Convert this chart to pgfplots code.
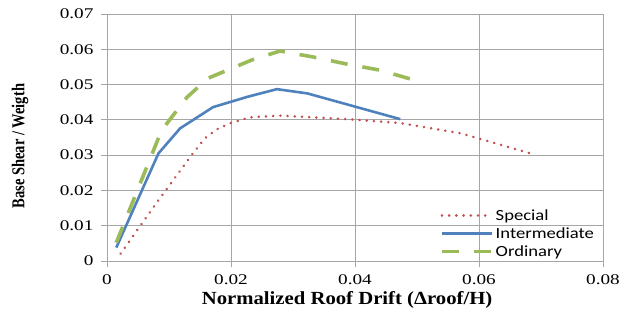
\documentclass[border=0pt]{standalone}
\usepackage{graphicx}
\usepackage{pgfplots}
\pgfplotsset{compat=1.18}
\usepackage{fontspec}
\setmainfont{Liberation Serif}
\newfontfamily\tickfont[FakeStretch=1.3]{Liberation Serif}
\newfontfamily\labfont[FakeStretch=1.12]{Liberation Serif}
\newfontfamily\legfont[FakeStretch=1.2]{Carlito}
\definecolor{cred}{HTML}{C0504D}
\definecolor{cblue}{HTML}{4F81BD}
\definecolor{cgreen}{HTML}{9BBB59}
\definecolor{cgrid}{HTML}{A6A6A6}
\begin{document}
\begin{tikzpicture}
\begin{axis}[
  name=ax,
  scale only axis, width=496pt, height=247pt,
  xmin=0, xmax=0.08, ymin=0, ymax=0.07,
  xtick={0,0.02,0.04,0.06,0.08},
  ytick={0,0.01,0.02,0.03,0.04,0.05,0.06,0.07},
  scaled ticks=false,
  /pgf/number format/fixed,
  /pgf/number format/precision=2,
  /pgf/number format/assume math mode=true,
  grid=major,
  major grid style={cgrid, line width=0.9pt},
  axis line style={cgrid, line width=0.9pt},
  tick style={cgrid, line width=0.9pt},
  tick align=outside, tick pos=left, major tick length=6pt,
  ticklabel style={font=\tickfont\fontsize{14.8}{14.8}\selectfont},
  xticklabel style={yshift=-4pt},
  yticklabel style={xshift=-4pt},
  xlabel={\labfont\bfseries\fontsize{18.5}{18.5}\selectfont Normalized Roof Drift (Δroof/H)},
  ylabel={\scalebox{1}[1.25]{\bfseries\fontsize{14.5}{14.5}\selectfont Base Shear / Weigth}},
  xlabel style={at={(rel axis cs:0.484,-0.158)}, anchor=center},
  ylabel style={at={(rel axis cs:-0.1754,0.465)}, anchor=center},
  legend style={draw=none, fill=none, at={(axis cs:0.0537,0.0149)}, anchor=north west,
     font=\legfont\fontsize{15.5}{15.5}\selectfont, inner sep=0pt, row sep=3.7pt,
     nodes={inner xsep=2pt, inner ysep=1pt}},
  legend cell align=left,
  legend image code/.code={\draw[#1] (0pt,0pt) -- (50pt,0pt);},
]
\addplot[cred, line width=2.8pt, line cap=round, dash pattern=on 0.01pt off 7.2pt] coordinates {
(0.0022,0.0021) (0.0080,0.0165) (0.0139,0.0306) (0.0158,0.0348) (0.0177,0.0373)
(0.0198,0.0390) (0.0230,0.0407) (0.0279,0.0412) (0.0387,0.0402) (0.0473,0.0391)
(0.0570,0.0362) (0.0687,0.0303)};
\addlegendentry{Special}
\addplot[cblue, line width=2.6pt, line join=round] coordinates {
(0.0015,0.0038) (0.0083,0.0305) (0.0118,0.0376) (0.0171,0.0436) (0.0226,0.0465)
(0.0274,0.0487) (0.0323,0.0475) (0.0473,0.0402)};
\addlegendentry{Intermediate}
\addplot[cgreen, line width=3.6pt, dash pattern=on 17pt off 15pt] coordinates {
(0.0015,0.0052) (0.0088,0.0370) (0.0129,0.0464) (0.0163,0.0518) (0.0234,0.0570)
(0.0279,0.0595) (0.0333,0.0578) (0.0387,0.0558) (0.0440,0.0541) (0.0489,0.0516)};
\addlegendentry{Ordinary}
\end{axis}
\pgfresetboundingbox
\path ([shift={(-107pt,-52pt)}]ax.south west) rectangle ([shift={(17pt,14pt)}]ax.north east);
\end{tikzpicture}
\end{document}
